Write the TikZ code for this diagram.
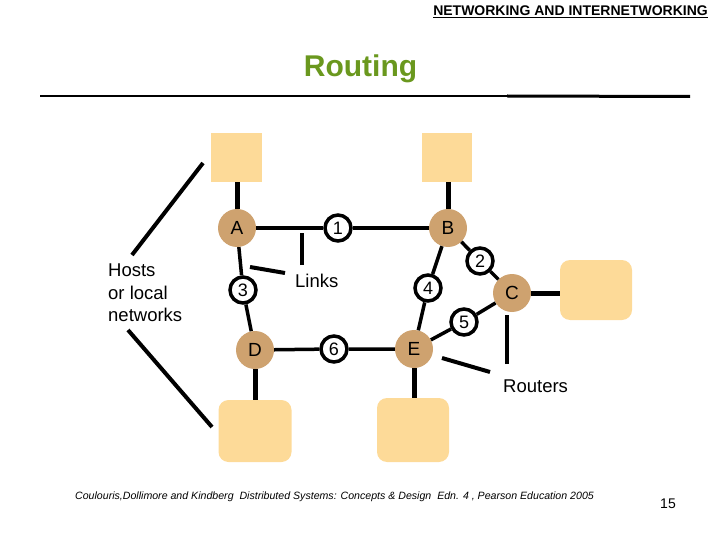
\documentclass[tikz,border=0pt]{standalone}
\usepackage{fontspec}
\setmainfont{Liberation Sans}
\usepackage{xcolor}
\usetikzlibrary{positioning, calc}

\definecolor{routertan}{RGB}{206,162,111}
\definecolor{hostpeach}{RGB}{253,218,152}
\definecolor{titlegreen}{RGB}{106,152,30}

\begin{document}
\begin{tikzpicture}[x=1pt, y=-1pt,
    % Routers (tan discs)
    router/.style={circle, fill=routertan, minimum size=38pt, inner sep=0pt,
                   font=\fontsize{19}{19}\selectfont},
    % Numbered links (white rings)
    link/.style={circle, draw=black, line width=3.5pt, fill=white,
                 minimum size=26pt, inner sep=0pt, font=\fontsize{18}{18}\selectfont},
    % Hosts or local networks
    host/.style={rectangle, fill=hostpeach, inner sep=0pt},
    hostblob/.style={host, rounded corners=10pt},
    % Text labels
    lbl/.style={inner sep=0pt, font=\fontsize{18.5}{22.5}\selectfont, align=left},
    wire/.style={line width=3.5pt},
    hostwire/.style={line width=5pt},
    pointer/.style={line width=4pt}
]
\useasboundingbox (0,0) rectangle (720,540);

%-------- HEADER --------
\node[inner sep=0pt, anchor=base east, font=\bfseries\fontsize{14}{14}\selectfont]
    (hdr) at (708,16) {\underline{NETWORKING AND INTERNETWORKING}};
\node[inner sep=0pt, anchor=base, text=titlegreen, font=\bfseries\fontsize{30}{30}\selectfont]
    (title) at (360.5,77) {Routing};
\coordinate (ruleL) at (40,96);
\coordinate (ruleM) at (507,96);
\coordinate (ruleR) at (690,96.5);
\draw[line width=2pt] (ruleL) -- (ruleM);
\draw[line width=3pt] (ruleM) -- (ruleR);

%-------- HOSTS --------
\node[host, minimum width=51pt, minimum height=49pt] (hA) at (236,157.5) {};
\node[host, minimum width=50pt, minimum height=49pt] (hB) at (447,157.5) {};
\node[hostblob, minimum width=72pt, minimum height=60pt] (hC) at (596,290) {};
\node[hostblob, minimum width=73pt, minimum height=62pt] (hD) at (255,431) {};
\node[hostblob, minimum width=72pt, minimum height=64pt] (hE) at (413,430) {};

%-------- ROUTERS --------
\node[router] (A) at (237,228) {A};
\node[router] (B) at (448,228) {B};
\node[router] (C) at (512,293) {C};
\node[router] (D) at (255,350) {D};
\node[router] (E) at (414,349) {E};

%-------- LINKS --------
\node[link] (l1) at (338,228) {1};
\node[link] (l2) at (480,261) {2};
\node[link] (l3) at (243,290) {3};
\node[link] (l4) at (428,288) {4};
\node[link] (l5) at (464,322) {5};
\node[link] (l6) at (334,349) {6};

%-------- WIRES --------
\draw[wire] (A) -- (l1) -- (B);
\draw[wire] (B) -- (l2) -- (C);
\draw[wire] (A) -- (l3) -- (D);
\draw[wire] (B) -- (l4) -- (E);
\draw[wire] (E) -- (l5) -- (C);
\draw[wire] (D) -- (l6) -- (E);

\draw[hostwire] (A) -- (A |- hA.south);
\draw[hostwire] (B) -- (B |- hB.south);
\draw[hostwire] (C) -- (hC.west |- C);
\draw[hostwire] (D) -- (D |- hD.north);
\draw[hostwire] (E) -- (E |- hE.north);

%-------- LABELS --------
\node[lbl, anchor=west] (hosts) at (108,293) {Hosts\\or local\\networks};
\node[lbl, anchor=base west] (links) at (295,287) {Links};
\node[lbl, anchor=base west] (routers) at (503,392) {Routers};

%-------- POINTERS --------
\coordinate (hostsUp) at (132,255);
\coordinate (hostsUpEnd) at (203,163);
\coordinate (hostsDn) at (128,330);
\coordinate (hostsDnEnd) at (212,427);
\draw[pointer] (hostsUp) -- (hostsUpEnd);
\draw[pointer] (hostsDn) -- (hostsDnEnd);

\coordinate (linksV) at (302,265);
\coordinate (linksVEnd) at (302,233);
\coordinate (linksD) at (285,273);
\coordinate (linksDEnd) at (250,267);
\draw[pointer] (linksV) -- (linksVEnd);
\draw[pointer] (linksD) -- (linksDEnd);

\coordinate (routersV) at (507,364);
\coordinate (routersVEnd) at (507,315);
\coordinate (routersD) at (490,372);
\coordinate (routersDEnd) at (442,358);
\draw[pointer] (routersV) -- (routersVEnd);
\draw[pointer] (routersD) -- (routersDEnd);

%-------- FOOTER --------
\node[inner sep=0pt, anchor=base west, font=\itshape\fontsize{10.6}{10.6}\selectfont]
    (cite) at (75,499) {Coulouris,Dollimore and Kindberg~~Distributed Systems: Concepts \& Design~~Edn. 4 , Pearson Education 2005};
\node[inner sep=0pt, anchor=base, font=\fontsize{14}{14}\selectfont]
    (page) at (668,508) {15};

\end{tikzpicture}
\end{document}
